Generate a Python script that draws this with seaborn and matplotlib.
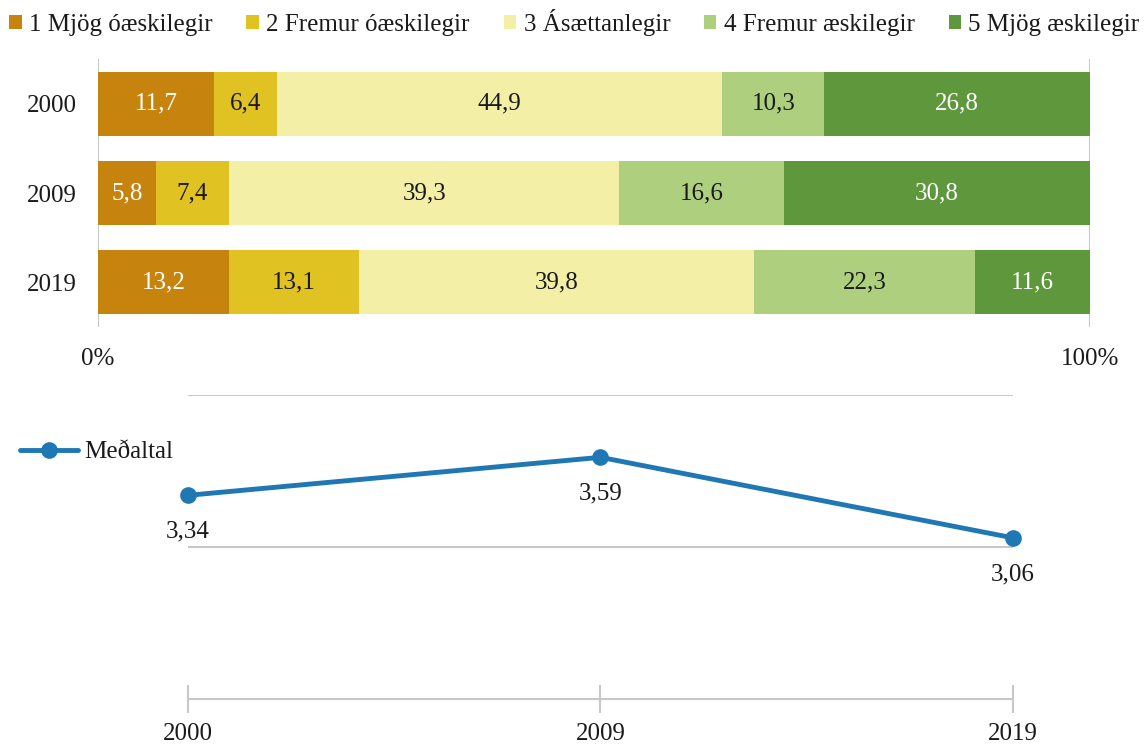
import matplotlib
matplotlib.use("Agg")
import matplotlib.pyplot as plt
from matplotlib.patches import Patch
from matplotlib.lines import Line2D
import numpy as np
import pandas as pd
import seaborn as sns

# Survey years and answer categories
years = ["2000", "2009", "2019"]
categories = ["1 Mjög óæskilegir", "2 Fremur óæskilegir", "3 Ásættanlegir",
              "4 Fremur æskilegir", "5 Mjög æskilegir"]
colors = ["#C6840F", "#E0C222", "#F3EFA6", "#AED07E", "#5F983C"]
label_colors = ["white", "#1a1a1a", "#1a1a1a", "#1a1a1a", "white"]

# Share of answers (%) per year, one list per category
cat1 = [11.7, 5.8, 13.2]
cat2 = [6.4, 7.4, 13.1]
cat3 = [44.9, 39.3, 39.8]
cat4 = [10.3, 16.6, 22.3]
cat5 = [26.8, 30.8, 11.6]

# Mean score per year
means = [3.34, 3.59, 3.06]

sns.set_theme(style="white")
plt.rcParams["font.family"] = ["Liberation Serif", "DejaVu Serif"]
TXT = "#1a1a1a"
GRID = "#C8C8C8"
FS = 18

W, H = 1144, 744
fig = plt.figure(figsize=(W / 100, H / 100), dpi=100)


def px_axes(x0, y0, x1, y1):
    return fig.add_axes([x0 / W, 1 - y1 / H, (x1 - x0) / W, (y1 - y0) / H])


# ---------- stacked 100% bars ----------
ax = px_axes(98, 59, 1090, 327)
shares = np.array([cat1, cat2, cat3, cat4, cat5], dtype=float)
pct = shares / shares.sum(axis=0) * 100
cum = np.cumsum(pct, axis=0)

for i in range(len(categories) - 1, -1, -1):
    df = pd.DataFrame({"year": years, "value": cum[i]})
    sns.barplot(data=df, x="value", y="year", orient="h", color=colors[i],
                width=0.72, saturation=1, linewidth=0, ax=ax, zorder=2)

for i in range(len(categories)):
    for j in range(len(years)):
        centre = cum[i, j] - pct[i, j] / 2
        ax.text(centre, j, f"{shares[i, j]:.1f}".replace(".", ","),
                ha="center", va="center", fontsize=FS, color=label_colors[i],
                zorder=3)

ax.set_xlim(0, 100)
ax.set_ylim(2.5, -0.5)
ax.set_xticks([0, 100])
ax.set_xticklabels(["0%", "100%"])
ax.xaxis.grid(True, color=GRID, linewidth=1.5, zorder=0)
ax.set_axisbelow(True)
ax.tick_params(axis="x", length=0, pad=15, labelsize=FS, labelcolor=TXT)
ax.tick_params(axis="y", length=0, pad=15, labelsize=FS, labelcolor=TXT)
ax.set_xlabel("")
ax.set_ylabel("")
for s in ax.spines.values():
    s.set_visible(False)

fig.legend(handles=[Patch(facecolor=c, edgecolor="none") for c in colors],
           labels=categories, loc="center left", bbox_to_anchor=(9 / W, 1 - 22 / H),
           ncol=5, frameon=False, fontsize=FS, handlelength=0.5, handleheight=0.5,
           handletextpad=0.3, columnspacing=1.35, borderaxespad=0, borderpad=0,
           labelcolor=TXT)

# ---------- mean score line ----------
lx = px_axes(188, 395, 1013, 699)
ldf = pd.DataFrame({"pos": np.arange(len(years)), "mean": means})
sns.lineplot(data=ldf, x="pos", y="mean", ax=lx, color="#1F77B4", linewidth=3.5,
             marker="o", markersize=12, markeredgewidth=0, clip_on=False, zorder=3)
lx.set_xlim(0, len(years) - 1)
lx.set_ylim(2, 4)
lx.set_yticks([3, 4])
lx.yaxis.grid(True, color=GRID, linewidth=1.5)
lx.tick_params(axis="y", length=0, labelleft=False, left=False)
lx.set_xticks(np.arange(len(years)))
lx.set_xticklabels(years)
lx.tick_params(axis="x", bottom=True, direction="inout", length=20, width=1.5,
               color=GRID, pad=7, labelsize=FS, labelcolor=TXT)
lx.set_xlabel("")
lx.set_ylabel("")
for k, s in lx.spines.items():
    s.set_visible(k == "bottom")
lx.spines["bottom"].set_color(GRID)
lx.spines["bottom"].set_linewidth(1.5)

for j, m in enumerate(means):
    lx.annotate(f"{m:.2f}".replace(".", ","), (j, m), xytext=(0, -26),
                textcoords="offset points", ha="center", va="center",
                fontsize=FS, color=TXT, annotation_clip=False)

fig.legend(handles=[Line2D([], [], color="#1F77B4", linewidth=3.5, marker="o",
                           markersize=12, markeredgewidth=0)],
           labels=["Meðaltal"], loc="center left",
           bbox_to_anchor=(20 / W, 1 - 452 / H), frameon=False, fontsize=FS,
           handlelength=2.3, handletextpad=0.25, borderaxespad=0, borderpad=0,
           labelcolor=TXT)

fig.savefig("out.png", dpi=100)
